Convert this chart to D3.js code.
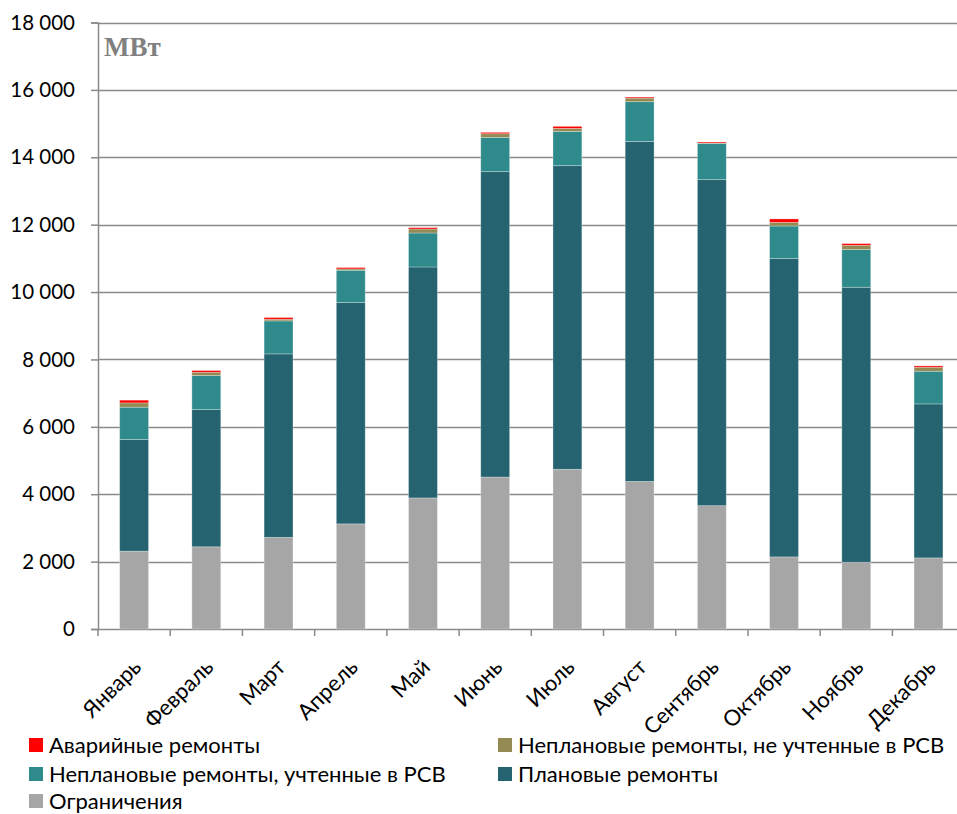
<!DOCTYPE html>
<html>
<head>
<meta charset="utf-8">
<script src="https://cdn.jsdelivr.net/npm/d3@7"></script>
<style>
  html, body { margin: 0; padding: 0; background: #fff; }
  svg { display: block; }
</style>
</head>
<body>
<svg id="chart" width="957" height="814"></svg>
<script>
// Months along the x axis
const months = ["Январь", "Февраль", "Март", "Апрель", "Май", "Июнь",
                "Июль", "Август", "Сентябрь", "Октябрь", "Ноябрь", "Декабрь"];

// Monthly values, MW, one array per series (bottom to top of each stack)
const limits      = [2310, 2440, 2720, 3120, 3890, 4510, 4740, 4380, 3660, 2140, 1980, 2110];
const planned     = [3316, 4074, 5445, 6570, 6854, 9063, 9011, 10092, 9676, 8853, 8162, 4570];
const unplannedIn = [957, 1008, 979, 957, 1009, 1017, 1017, 1177, 1077, 967, 1118, 970];
const unplannedOut= [128, 98, 50, 40, 118, 110, 89, 107, 10, 110, 128, 119];
const emergency   = [80, 50, 50, 40, 40, 40, 60, 30, 30, 100, 50, 40];

// Series names (legend text) in stacking order
const seriesNames = [
  "Ограничения",
  "Плановые ремонты",
  "Неплановые ремонты, учтенные в РСВ",
  "Неплановые ремонты, не учтенные в РСВ",
  "Аварийные ремонты"
];
const seriesColors = ["#a6a6a6", "#24636f", "#2f8a8c", "#948a54", "#ff0000"];

// Y axis tick values
const yTicks = [0, 2000, 4000, 6000, 8000, 10000, 12000, 14000, 16000, 18000];

const unitLabel = "МВт";

const FONT = "Lato, 'Open Sans', sans-serif";

// Build rows for the stack layout
const seriesArrays = [limits, planned, unplannedIn, unplannedOut, emergency];
const rows = months.map((m, i) => {
  const r = { month: m };
  seriesNames.forEach((s, k) => { r[s] = seriesArrays[k][i]; });
  return r;
});

const svg = d3.select("#chart");
const W = 957;

const plotLeft = 98, plotRight = 964.6, plotTop = 22.5, plotBottom = 629;

const x = d3.scaleBand()
  .domain(months)
  .range([plotLeft, plotRight])
  .paddingInner(0.6)
  .paddingOuter(0.3);

const y = d3.scaleLinear()
  .domain([0, 18000])
  .range([plotBottom, plotTop]);

const fmt = d3.formatLocale({ decimal: ",", thousands: "\u00a0", grouping: [3], currency: ["", ""] }).format(",");

// Horizontal gridlines
svg.append("g")
  .selectAll("line")
  .data(yTicks)
  .join("line")
  .attr("x1", plotLeft)
  .attr("x2", W)
  .attr("y1", d => Math.round(y(d)) + 0.5)
  .attr("y2", d => Math.round(y(d)) + 0.5)
  .attr("stroke", "#8a8a8a")
  .attr("stroke-width", 1.5);

// Stacked bars
const stacked = d3.stack().keys(seriesNames)(rows);
const color = d3.scaleOrdinal().domain(seriesNames).range(seriesColors);

svg.append("g")
  .selectAll("g")
  .data(stacked)
  .join("g")
  .attr("fill", d => color(d.key))
  .selectAll("rect")
  .data(d => d)
  .join("rect")
  .attr("x", d => x(d.data.month))
  .attr("width", x.bandwidth())
  .attr("y", d => y(d[1]))
  .attr("height", d => Math.max(0, y(d[0]) - y(d[1])))
  .attr("stroke", "rgba(255,255,255,0.35)")
  .attr("stroke-width", 0.8);

// Y axis
const yAxis = svg.append("g")
  .attr("transform", `translate(${plotLeft},0)`)
  .call(d3.axisLeft(y).tickValues(yTicks).tickFormat(fmt).tickSize(7).tickPadding(16));
yAxis.select(".domain").attr("stroke", "#8a8a8a").attr("stroke-width", 1.5);
yAxis.selectAll(".tick line").attr("stroke", "#8a8a8a").attr("stroke-width", 1.5);
yAxis.selectAll(".tick text")
  .style("font-family", FONT)
  .style("font-size", "20.5px")
  .style("fill", "#000");

// X axis: boundary ticks between months
const step = x.step();
const boundaries = d3.range(months.length + 1).map(i => plotLeft + i * step);
svg.append("g")
  .selectAll("line")
  .data(boundaries)
  .join("line")
  .attr("x1", d => d)
  .attr("x2", d => d)
  .attr("y1", plotBottom)
  .attr("y2", plotBottom + 7)
  .attr("stroke", "#8a8a8a")
  .attr("stroke-width", 1.5);

// X axis labels, rotated
svg.append("g")
  .selectAll("text")
  .data(months)
  .join("text")
  .attr("transform", d => `translate(${x(d) + x.bandwidth() / 2 + 3},${plotBottom + 34}) rotate(-45)`)
  .attr("text-anchor", "end")
  .attr("dy", "0.35em")
  .style("font-family", FONT)
  .style("font-size", "22px")
  .style("fill", "#000")
  .text(d => d);

// Unit label
svg.append("text")
  .attr("x", 104)
  .attr("y", 56)
  .style("font-family", "'Liberation Serif', 'DejaVu Serif', serif")
  .style("font-weight", "bold")
  .style("font-size", "27px")
  .style("fill", "#808080")
  .text(unitLabel);

// Legend
const legendOrder = [
  { name: seriesNames[4], col: 0, row: 0 },
  { name: seriesNames[3], col: 1, row: 0 },
  { name: seriesNames[2], col: 0, row: 1 },
  { name: seriesNames[1], col: 1, row: 1 },
  { name: seriesNames[0], col: 0, row: 2 }
];
const colX = [29, 498];
const rowY = [745, 774, 801];
const legend = svg.append("g")
  .selectAll("g")
  .data(legendOrder)
  .join("g")
  .attr("transform", d => `translate(${colX[d.col]},${rowY[d.row]})`);
legend.append("rect")
  .attr("x", 0).attr("y", -7).attr("width", 14).attr("height", 14)
  .attr("fill", d => color(d.name));
legend.append("text")
  .attr("x", 20)
  .attr("dy", "0.35em")
  .style("font-family", FONT)
  .style("font-size", "22px")
  .style("fill", "#000")
  .text(d => d.name);
</script>
</body>
</html>
